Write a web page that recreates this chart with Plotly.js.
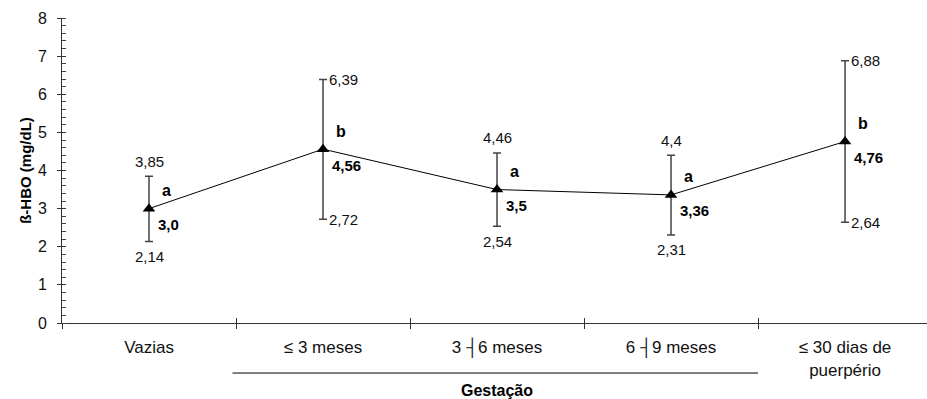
<!DOCTYPE html>
<html>
<head>
<meta charset="utf-8">
<script src="https://cdn.plot.ly/plotly-3.0.1.min.js"></script>
<style>html,body{margin:0;padding:0;background:#fff;}#chart{width:927px;height:399px;}</style>
</head>
<body>
<div id="chart"></div>
<script>
const categories = ['Vazias', '≤ 3 meses', '3 ┤6 meses', '6 ┤9 meses', '≤ 30 dias de<br>puerpério'];
const means = [3.0, 4.56, 3.5, 3.36, 4.76];
const meanLabels = ['3,0', '4,56', '3,5', '3,36', '4,76'];
const upper = [3.85, 6.39, 4.46, 4.4, 6.88];
const lower = [2.14, 2.72, 2.54, 2.31, 2.64];
const letters = ['a', 'b', 'a', 'a', 'b'];
const yTicks = [0, 1, 2, 3, 4, 5, 6, 7, 8];

const FONT = 'Liberation Sans, Arial, sans-serif';
const fmt = v => String(v).replace('.', ',');

const trace = {
  x: categories, y: means, type: 'scatter', mode: 'lines+markers',
  line: {color: '#000', width: 1},
  marker: {symbol: 'triangle-up', size: 11, color: '#000'},
  error_y: {type: 'data', symmetric: false,
    array: upper.map((u, i) => +(u - means[i]).toFixed(3)),
    arrayminus: lower.map((l, i) => +(means[i] - l).toFixed(3)),
    color: '#444', thickness: 1.5, width: 4},
  hoverinfo: 'skip', showlegend: false
};
const ghost = {x: categories, y: means, xaxis: 'x2', yaxis: 'y2', type: 'scatter', mode: 'none', hoverinfo: 'skip', showlegend: false};

const sideLabel = [false, true, false, false, true];
const ann = [];
categories.forEach((c, i) => {
  const tf = {family: FONT, size: 15, color: '#111'};
  if (sideLabel[i]) {
    ann.push({x: c, y: upper[i], text: fmt(upper[i]), showarrow: false, xanchor: 'left', xshift: 4, font: tf});
    ann.push({x: c, y: lower[i], text: fmt(lower[i]), showarrow: false, xanchor: 'left', xshift: 4, font: tf});
  } else {
    ann.push({x: c, y: upper[i], text: fmt(upper[i]), showarrow: false, yshift: 15, font: tf});
    ann.push({x: c, y: lower[i], text: fmt(lower[i]), showarrow: false, yshift: -15, font: tf});
  }
  ann.push({x: c, y: means[i], text: '<b>' + letters[i] + '</b>', showarrow: false, xanchor: 'left', xshift: 11, yshift: 18, font: {family: FONT, size: 16, color: '#000'}});
  ann.push({x: c, y: means[i], text: '<b>' + meanLabels[i] + '</b>', showarrow: false, xanchor: 'left', xshift: 7, yshift: -16, font: {family: FONT, size: 15, color: '#000'}});
});
ann.push({x: 2, xref: 'x', y: -0.22, yref: 'paper', yanchor: 'middle', text: '<b>Gestação</b>', showarrow: false, font: {family: FONT, size: 16, color: '#000'}});

const xr = [-0.5, 4.471];
const layout = {
  width: 927, height: 399,
  margin: {l: 62, r: 0, t: 18, b: 76},
  paper_bgcolor: '#fff', plot_bgcolor: '#fff',
  font: {family: FONT, color: '#000'},
  showlegend: false,
  xaxis: {type: 'category', categoryarray: categories, range: xr, tickson: 'boundaries',
    ticks: 'outside', ticklen: 5, tickcolor: '#333', tickwidth: 1,
    showline: true, linecolor: '#333', linewidth: 1, showgrid: false, zeroline: false,
    tickfont: {family: FONT, size: 17, color: '#111'}, ticklabelstandoff: 9, fixedrange: true},
  xaxis2: {type: 'category', categoryarray: categories, range: xr, overlaying: 'x', tickson: 'boundaries',
    ticks: 'inside', ticklen: 5, tickcolor: '#333', tickwidth: 1, showticklabels: false,
    showline: false, showgrid: false, zeroline: false, fixedrange: true},
  yaxis: {range: [0, 8], tickvals: yTicks, ticks: 'outside', ticklen: 4, tickcolor: '#333', tickwidth: 1,
    minor: {dtick: 0.2, ticks: 'inside', ticklen: 4, tickcolor: '#444', showgrid: false},
    showline: true, linecolor: '#333', linewidth: 1, showgrid: false, zeroline: false,
    tickfont: {family: FONT, size: 16, color: '#111'}, ticklabelstandoff: 7,
    title: {text: '<b>ß-HBO (mg/dL)</b>', font: {family: FONT, size: 15, color: '#000'}, standoff: 2}, fixedrange: true},
  yaxis2: {range: [0, 8], tickvals: yTicks, overlaying: 'y', ticks: 'inside', ticklen: 4, tickcolor: '#333', tickwidth: 1,
    showticklabels: false, showline: false, showgrid: false, zeroline: false, fixedrange: true},
  shapes: [{type: 'line', xref: 'x', yref: 'paper', x0: 0.48, x1: 3.5, y0: -0.164, y1: -0.164, line: {color: '#000', width: 1}}],
  annotations: ann
};
Plotly.newPlot('chart', [trace, ghost], layout, {displayModeBar: false, staticPlot: true});
</script>
</body>
</html>
